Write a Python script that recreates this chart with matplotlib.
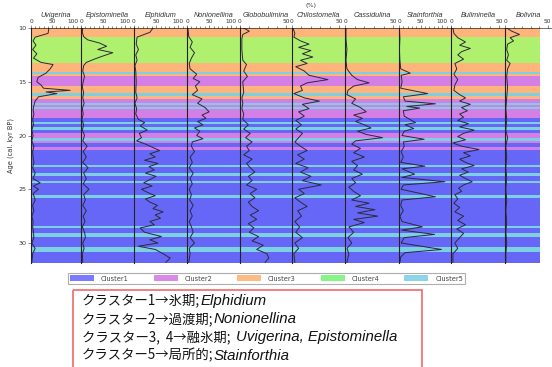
import matplotlib.pyplot as plt
from matplotlib.patches import Patch, Rectangle
from matplotlib.ticker import MultipleLocator, FixedLocator

W, H = 552, 367

# cluster zones down-core (age edges in cal kyr BP, cluster id per zone)
zone_edges = [10.0, 10.84, 13.26, 14.1, 14.28, 14.47, 15.4, 16.05, 16.3, 16.6,
              17.0, 17.15, 17.35, 17.55, 18.4, 18.75, 18.95, 19.2, 19.5, 19.77,
              20.23, 20.5, 20.7, 21.07, 21.35, 22.74, 22.93, 23.49, 23.77, 24.23,
              24.42, 25.53, 25.81, 28.42, 28.6, 29.07, 29.44, 30.37, 30.84, 31.86]
zone_cluster = [3, 4, 3, 5, 3, 2, 3, 5, 3, 2,
                5, 2, 5, 2, 1, 5, 1, 5, 1, 2,
                5, 2, 1, 2, 1, 5, 1, 5, 1, 5,
                1, 5, 1, 5, 1, 5, 1, 5, 1]

band_colors = {1: '#6767f7', 2: '#d47fe6', 3: '#ffb47c', 4: '#aff06e', 5: '#7bd0e2'}
legend_colors = ['#7b7bff', '#d88ae8', '#ffbb84', '#86f586', '#8fd4e6']
legend_labels = ['Cluster1', 'Cluster2', 'Cluster3', 'Cluster4', 'Cluster5']

taxa = ['Uvigerina', 'Epistominella', 'Elphidium', 'Nonionellina', 'Globobulimina',
        'Chilostomella', 'Cassidulina', 'Stainforthia', 'Buliminella', 'Bolivina']
scale_max = [100, 100, 100, 100, 50, 50, 50, 100, 50, 50]

# relative abundance (%) per taxon
uvi_age = [10.0, 10.5, 10.85, 11.2, 11.6, 12.0, 12.4, 12.8, 13.2, 13.4, 13.8, 14.2, 14.6,
           15.0, 15.3, 15.6, 15.8, 15.95, 16.1, 16.4, 16.8, 17.2, 17.6, 18.0, 18.5, 19.0,
           19.5, 20.0, 20.5, 21.0, 21.5, 22.0, 22.5, 23.0, 23.5, 24.0, 24.4, 24.7, 25.0,
           25.4, 26.0, 26.5, 27.0, 27.5, 28.0, 28.5, 29.0, 29.5, 30.0, 30.5, 31.0, 31.8]
uvi_val = [43, 41, 10, 5, 12, 4, 14, 6, 24, 53, 46, 36, 17,
           14, 24, 30, 94, 36, 62, 18, 10, 7, 5, 7, 4, 6,
           2, 5, 2, 7, 4, 5, 7, 4, 10, 5, 22, 6, 18,
           5, 10, 4, 7, 2, 5, 4, 6, 7, 2, 10, 4, 2]

epi_age = [10.0, 10.4, 10.8, 11.1, 11.4, 11.7, 12.0, 12.3, 12.6, 12.9, 13.2, 13.5, 14.0,
           14.5, 15.0, 15.5, 16.0, 16.5, 17.0, 17.5, 18.0, 18.5, 19.0, 19.5, 20.0, 20.5,
           21.0, 21.5, 22.0, 22.5, 23.0, 23.5, 24.0, 24.5, 25.0, 25.5, 26.0, 26.5, 27.0,
           27.5, 28.0, 28.5, 29.0, 29.5, 30.0, 30.5, 31.0, 31.8]
epi_val = [4, 3, 6, 15, 42, 58, 38, 72, 50, 30, 12, 6, 4,
           8, 5, 3, 6, 4, 7, 3, 5, 2, 6, 3, 8, 4,
           14, 5, 12, 4, 16, 6, 12, 5, 18, 6, 10, 4, 12,
           5, 9, 3, 8, 10, 4, 7, 3, 4]

elp_age = [10.0, 10.4, 10.85, 11.5, 12.0, 12.5, 13.0, 13.5, 14.0, 15.0, 16.0, 16.5, 17.0,
           17.5, 18.0, 18.5, 18.8, 19.1, 19.5, 19.8, 20.2, 20.5, 20.8, 21.1, 21.4, 21.7,
           22.0, 22.3, 22.6, 22.9, 23.2, 23.5, 23.8, 24.1, 24.4, 24.7, 25.0, 25.3, 25.6,
           25.9, 26.2, 26.5, 26.8, 27.1, 27.4, 27.7, 28.0, 28.3, 28.6, 29.0, 29.4, 29.7,
           30.0, 30.3, 30.6, 31.0, 31.4, 31.8]
elp_val = [43, 36, 7, 5, 10, 4, 7, 2, 4, 5, 4, 7, 2,
           6, 4, 10, 24, 14, 30, 12, 17, 6, 26, 42, 58, 36,
           48, 24, 54, 34, 46, 26, 50, 36, 22, 41, 17, 31, 48,
           26, 36, 53, 43, 66, 48, 60, 36, 46, 14, 24, 62, 36,
           54, 10, 48, 66, 82, 72]

non_age = [10.0, 10.8, 11.3, 11.8, 12.3, 12.8, 13.3, 13.8, 14.3, 14.7, 15.0, 15.4, 15.8,
           16.2, 16.6, 17.0, 17.4, 17.8, 18.1, 18.4, 18.7, 19.0, 19.3, 19.6, 20.0, 20.3,
           20.6, 21.0, 21.5, 22.0, 22.5, 23.0, 23.5, 24.0, 24.5, 25.0, 25.5, 26.0, 26.5,
           27.0, 27.5, 28.0, 28.5, 29.0, 29.5, 30.0, 30.5, 31.0, 31.8]
non_val = [2, 4, 12, 7, 17, 10, 5, 7, 22, 14, 29, 19, 24,
           12, 34, 24, 41, 50, 34, 43, 24, 36, 17, 29, 22, 36,
           12, 10, 17, 7, 12, 5, 14, 7, 12, 5, 10, 6, 14,
           7, 12, 5, 10, 14, 7, 17, 5, 7, 4]

glo_age = [10.0, 10.3, 10.6, 11.0, 12.0, 13.0, 13.4, 14.0, 14.5, 15.0, 16.0, 16.5, 17.0,
           17.5, 18.0, 18.5, 19.0, 19.4, 19.8, 20.2, 20.6, 21.0, 21.4, 21.8, 22.2, 22.6,
           23.0, 23.4, 23.8, 24.2, 24.6, 25.0, 25.4, 25.8, 26.2, 26.6, 27.0, 27.4, 27.8,
           28.2, 28.6, 29.0, 29.4, 29.8, 30.2, 30.6, 31.0, 31.4, 31.8]
glo_val = [4, 10, 3, 2, 2, 3, 7, 4, 8, 3, 4, 2, 3,
           2, 4, 3, 9, 4, 11, 6, 13, 7, 10, 4, 13, 7,
           11, 16, 9, 13, 7, 18, 11, 16, 9, 13, 20, 11, 18,
           9, 15, 10, 20, 13, 25, 18, 29, 31, 27]

chi_age = [10.0, 10.5, 10.85, 11.2, 11.5, 11.8, 12.1, 12.4, 12.7, 13.0, 13.3, 13.6, 14.0,
           14.4, 14.8, 15.1, 15.4, 15.8, 16.1, 16.5, 16.8, 17.1, 17.5, 17.8, 18.2, 18.6,
           19.0, 19.4, 19.8, 20.2, 20.6, 21.0, 21.4, 21.8, 22.2, 22.6, 23.0, 23.4, 23.8,
           24.2, 24.6, 25.0, 25.4, 25.8, 26.2, 26.6, 27.0, 27.5, 28.0, 28.5, 29.0, 29.5,
           30.0, 30.5, 31.0, 31.8]
chi_val = [1, 3, 2, 9, 18, 7, 20, 11, 22, 9, 16, 4, 13,
           18, 38, 16, 9, 11, 2, 13, 29, 11, 18, 7, 13, 4,
           10, 4, 11, 7, 3, 9, 16, 6, 13, 4, 17, 9, 20,
           11, 31, 7, 13, 3, 9, 16, 6, 10, 3, 8, 4, 11,
           3, 7, 2, 3]

cas_age = [10.0, 11.0, 12.0, 13.0, 13.8, 14.4, 14.8, 15.1, 15.4, 15.8, 16.2, 16.6, 17.0,
           17.4, 17.8, 18.1, 18.4, 18.7, 19.0, 19.3, 19.6, 19.9, 20.2, 20.5, 20.8, 21.2,
           21.6, 22.0, 22.4, 22.8, 23.2, 23.6, 24.0, 24.4, 24.8, 25.2, 25.6, 26.0, 26.3,
           26.6, 26.9, 27.2, 27.5, 27.8, 28.1, 28.5, 29.0, 29.5, 30.0, 30.5, 31.0, 31.8]
cas_val = [1, 1, 2, 1, 2, 7, 13, 25, 9, 3, 2, 11, 7,
           16, 22, 9, 18, 11, 20, 27, 13, 22, 39, 11, 7, 16,
           9, 20, 7, 13, 9, 18, 7, 11, 4, 9, 16, 7, 25,
           11, 31, 13, 34, 9, 20, 4, 9, 3, 7, 2, 4, 2]

sta_age = [10.0, 11.0, 12.0, 13.0, 13.8, 14.2, 14.4, 15.0, 15.6, 16.1, 16.4, 16.8, 17.05,
           17.3, 17.45, 17.7, 18.2, 18.8, 19.0, 19.35, 19.6, 20.0, 20.35, 20.6, 21.0, 21.5,
           22.0, 22.5, 22.85, 23.1, 23.6, 23.9, 24.3, 24.6, 25.0, 25.7, 26.0, 26.5, 27.0,
           27.5, 28.0, 28.5, 28.8, 29.2, 29.5, 30.0, 30.6, 30.9, 31.3, 31.8]
sta_val = [1, 2, 1, 2, 4, 26, 5, 7, 4, 66, 10, 14, 84,
           18, 48, 10, 12, 38, 14, 34, 12, 7, 58, 10, 12, 5,
           10, 4, 60, 7, 36, 7, 106, 10, 5, 84, 7, 4, 10,
           2, 7, 54, 6, 82, 12, 5, 98, 14, 4, 2]

bul_age = [10.0, 10.5, 10.9, 11.3, 11.6, 11.9, 12.2, 12.5, 12.9, 13.3, 13.8, 14.3, 14.8,
           15.3, 15.8, 16.2, 16.5, 16.8, 17.1, 17.4, 17.7, 18.0, 18.3, 18.6, 18.9, 19.2,
           19.5, 19.8, 20.1, 20.4, 20.7, 21.0, 21.3, 21.6, 21.9, 22.2, 22.5, 22.8, 23.1,
           23.4, 23.7, 24.0, 24.3, 24.6, 24.9, 25.2, 25.5, 25.9, 26.3, 26.7, 27.1, 27.5,
           27.9, 28.3, 28.7, 29.1, 29.5, 30.0, 30.5, 31.0, 31.8]
bul_val = [2, 3, 7, 15, 9, 20, 11, 7, 13, 4, 6, 3, 7,
           4, 3, 9, 15, 9, 20, 11, 17, 9, 13, 7, 18, 9,
           24, 13, 7, 15, 2, 11, 29, 13, 20, 9, 15, 24, 11,
           18, 9, 15, 22, 13, 8, 11, 4, 7, 3, 9, 4, 13,
           7, 15, 6, 13, 9, 4, 7, 2, 2]

bol_age = [10.0, 10.3, 10.6, 10.9, 11.2, 11.5, 12.0, 12.5, 13.0, 13.3, 13.8, 14.5, 15.5,
           16.5, 17.5, 18.5, 19.5, 20.2, 21.0, 22.0, 23.0, 24.0, 25.0, 26.0, 27.0, 28.0,
           29.0, 30.0, 31.0, 31.8]
bol_val = [2, 8, 17, 6, 10, 3, 2, 4, 2, 6, 3, 2, 3,
           2, 1, 2, 1, 3, 1, 2, 1, 2, 1, 2, 1, 2,
           1, 2, 1, 1]

series = [(uvi_age, uvi_val), (epi_age, epi_val), (elp_age, elp_val), (non_age, non_val),
          (glo_age, glo_val), (chi_age, chi_val), (cas_age, cas_val), (sta_age, sta_val),
          (bul_age, bul_val), (bol_age, bol_val)]

panel_edges = [31, 81, 134, 187, 240, 292, 345, 399, 451, 505, 552]
plot_top, plot_bottom = 28, 263


def box(x0, y0, x1, y1):
    return [x0 / W, 1 - y1 / H, (x1 - x0) / W, (y1 - y0) / H]


fig = plt.figure(figsize=(W / 100, H / 100), dpi=100)

# background zones
bg = fig.add_axes(box(31, plot_top, 540, plot_bottom))
bg.set_ylim(zone_edges[-1], zone_edges[0])
for i, c in enumerate(zone_cluster):
    bg.axhspan(zone_edges[i], zone_edges[i + 1], color=band_colors[c], lw=0)
bg.axis('off')

for k, name in enumerate(taxa):
    ax = fig.add_axes(box(panel_edges[k], plot_top, panel_edges[k + 1], plot_bottom))
    ax.patch.set_alpha(0)
    ages, vals = series[k]
    ax.plot(vals, ages, color='#2a2a3a', lw=0.7)
    ax.set_ylim(zone_edges[-1], zone_edges[0])
    if scale_max[k] == 100:
        ax.set_xlim(0, 120)
        ax.xaxis.set_major_locator(FixedLocator([0, 50, 100]))
    else:
        ax.set_xlim(0, 56 if k < 9 else 55)
        ax.xaxis.set_major_locator(FixedLocator([0, 50]))
    ax.xaxis.set_minor_locator(MultipleLocator(10))
    ax.xaxis.tick_top()
    ax.xaxis.set_label_position('top')
    ax.set_xlabel(name, fontsize=5.2, style='italic', family='Liberation Sans',
                  color='#333333', labelpad=1.5)
    ax.tick_params(axis='x', which='major', labelsize=4.2, length=2, width=0.4,
                   pad=1, colors='#333333')
    ax.tick_params(axis='x', which='minor', length=1.2, width=0.4, colors='#333333')
    for s in ['right', 'bottom']:
        ax.spines[s].set_visible(False)
    ax.spines['top'].set_linewidth(0.4)
    ax.spines['left'].set_linewidth(0.8)
    ax.spines['left'].set_color('#222222')
    if k == 0:
        ax.yaxis.set_major_locator(MultipleLocator(5))
        ax.tick_params(axis='y', labelsize=4.6, length=2, width=0.4, pad=1.5,
                       colors='#333333')
        ax.set_ylabel('Age (cal. kyr BP)', fontsize=4.8, color='#333333', labelpad=3)
    else:
        ax.set_yticks([])

fig.text(311 / W, 1 - 5 / H, '(%)', fontsize=4.6, ha='center', va='center', color='#333333')

handles = [Patch(facecolor=c, edgecolor='none') for c in legend_colors]
leg = fig.legend(handles, legend_labels, loc='center', ncol=5, mode='expand',
                 bbox_to_anchor=(68 / W, 1 - 285 / H, 397 / W, 13 / H),
                 fontsize=4.8, frameon=True, fancybox=False, handlelength=3.6,
                 handleheight=1.0, borderpad=0.3, borderaxespad=0, handletextpad=1.0)
leg.get_frame().set_edgecolor('#9a9a9a')
leg.get_frame().set_linewidth(0.8)
for t in leg.get_texts():
    t.set_color('#444444')

# summary box
over = fig.add_axes([0, 0, 1, 1])
over.set_xlim(0, W)
over.set_ylim(H, 0)
over.axis('off')
over.add_patch(Rectangle((73, 290), 349, 90, fill=False, edgecolor='#f06a6a', lw=1.2))

lines_jp = ['クラスター1→氷期;', 'クラスター2→過渡期;', 'クラスター3,  4→融氷期;  ', 'クラスター5→局所的;']
lines_latin = ['Elphidium', 'Nonionellina', 'Uvigerina, Epistominella', 'Stainforthia']
line_y = [304.5, 323, 341.5, 359.5]
for jp, lat, y in zip(lines_jp, lines_latin, line_y):
    t = over.text(82, y, jp, fontsize=9.6, family=['Noto Sans CJK JP', 'DejaVu Sans'],
                  va='baseline', ha='left', color='#111111')
    over.annotate(lat, xy=(1, y), xycoords=(t, 'data'), fontsize=10.8, style='italic',
                  family='Liberation Sans', va='baseline', ha='left', color='#111111')

fig.savefig('out.png', dpi=100)
